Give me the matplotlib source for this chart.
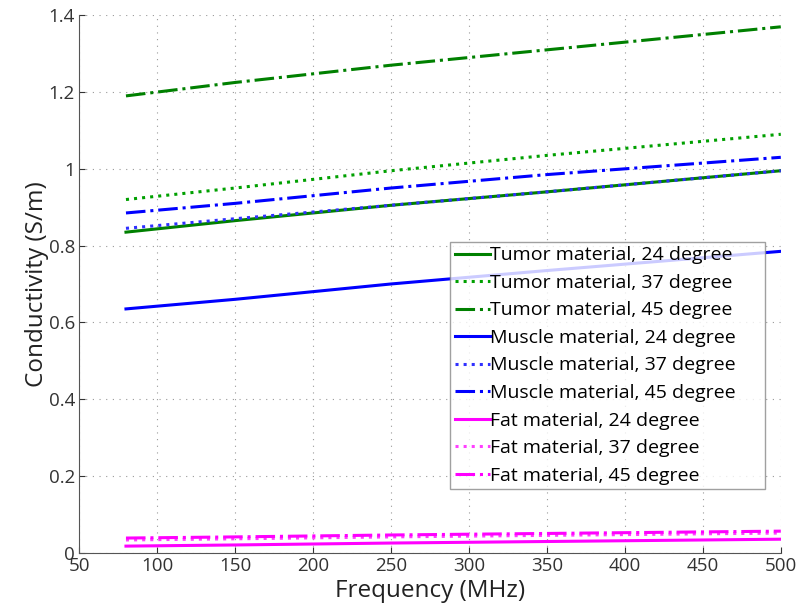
# Conductivity vs frequency for tumor / muscle / fat phantoms

import numpy as np
import matplotlib
matplotlib.use("Agg")
import matplotlib.pyplot as plt

plt.rcParams['font.family'] = ['Open Sans', 'DejaVu Sans']

# Data --------------------------------------------------------------

freq = [80, 150, 250, 350, 500]

tumor_24 = [0.835, 0.865, 0.905, 0.940, 0.995]
tumor_37 = [0.920, 0.950, 0.995, 1.035, 1.090]
tumor_45 = [1.190, 1.225, 1.270, 1.310, 1.370]
muscle_24 = [0.635, 0.660, 0.700, 0.735, 0.785]
muscle_37 = [0.845, 0.870, 0.905, 0.940, 0.995]
muscle_45 = [0.885, 0.910, 0.950, 0.985, 1.030]
fat_24 = [0.017, 0.020, 0.025, 0.029, 0.035]
fat_37 = [0.033, 0.036, 0.041, 0.045, 0.051]
fat_45 = [0.038, 0.041, 0.046, 0.050, 0.056]

series = [
    ("Tumor material, 24 degree", tumor_24, "#008000", "-"),
    ("Tumor material, 37 degree", tumor_37, "#00a000", ":"),
    ("Tumor material, 45 degree", tumor_45, "#008000", "-."),
    ("Muscle material, 24 degree", muscle_24, "#0000ff", "-"),
    ("Muscle material, 37 degree", muscle_37, "#3030ff", ":"),
    ("Muscle material, 45 degree", muscle_45, "#0000ff", "-."),
    ("Fat material, 24 degree", fat_24, "#ff00ff", "-"),
    ("Fat material, 37 degree", fat_37, "#ff40ff", ":"),
    ("Fat material, 45 degree", fat_45, "#ff00ff", "-."),
]

# Plot ----------------------------------------

fig, ax = plt.subplots(figsize=(8, 6.12), dpi=100)
fig.subplots_adjust(left=0.099, right=0.976, bottom=0.097, top=0.975)

for label, vals, col, ls in series:
    ax.plot(freq, vals, color=col, linestyle=ls, linewidth=2.2, label=label)

ax.set_xlim(50, 500)
ax.set_ylim(0, 1.4)
ax.set_xticks(np.arange(50, 501, 50))
ax.set_yticks([0, 0.2, 0.4, 0.6, 0.8, 1, 1.2, 1.4])
ax.set_yticklabels(["0", "0.2", "0.4", "0.6", "0.8", "1", "1.2", "1.4"])

ax.grid(True, linestyle=(0, (1, 5)), color="#999999", linewidth=0.8)
ax.tick_params(direction="in", labelsize=13.5, colors="#333333", length=4, pad=3)
for s in ["top", "right"]:
    ax.spines[s].set_visible(False)
for s in ["left", "bottom"]:
    ax.spines[s].set_color("#555555")

ax.set_xlabel("Frequency (MHz)", fontsize=17.5, color="#222222", labelpad=3)
ax.set_ylabel("Conductivity (S/m)", fontsize=17.5, color="#222222", labelpad=0)

# legend box stretched to the reference width (text stays left aligned)
leg = ax.legend(loc="upper left", bbox_to_anchor=(0.528, 0.12, 0.449, 0.459),
                mode="expand", fontsize=14,
                frameon=True, fancybox=False, edgecolor="#888888",
                handlelength=1.8, handletextpad=0.05, labelspacing=0.49,
                borderpad=0.25, borderaxespad=0)
leg.get_frame().set_linewidth(1.0)

plt.savefig("out.png", dpi=100)
